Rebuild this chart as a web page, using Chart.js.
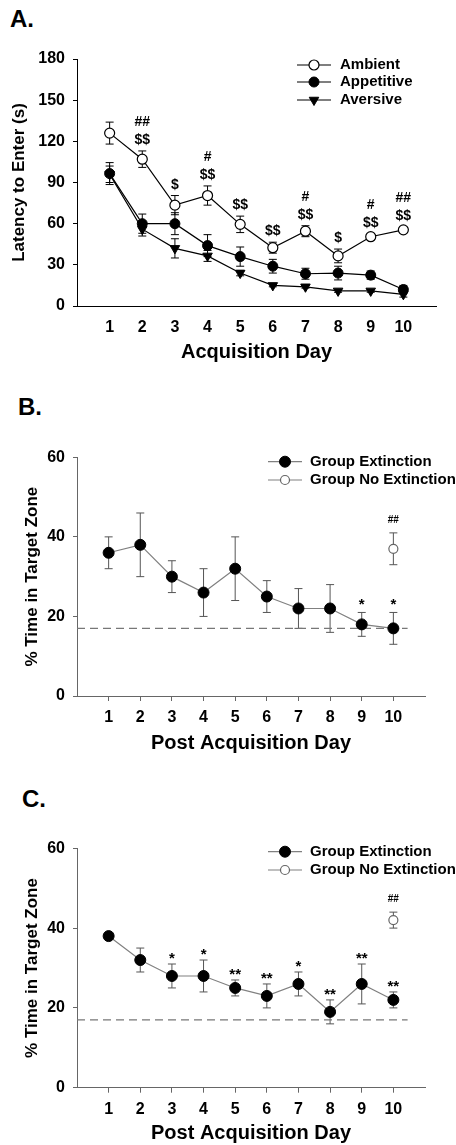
<!DOCTYPE html>
<html>
<head>
<meta charset="utf-8">
<script src="https://cdn.jsdelivr.net/npm/chart.js@4.4.1/dist/chart.umd.min.js"></script>
<style>
  body { margin: 0; background: #fff; width: 456px; height: 1145px; position: relative; overflow: hidden; font-family: "Liberation Sans", Arial, sans-serif; }
  canvas { position: absolute; left: 0; }
  .panel { position: absolute; font-size: 24px; line-height: 24px; font-weight: bold; }
</style>
</head>
<body>
<div class="panel" style="left:10px;top:7px">A.</div>
<canvas id="chartA" width="456" height="340" style="top:40px"></canvas>
<div class="panel" style="left:18px;top:395px">B.</div>
<canvas id="chartB" width="456" height="330" style="top:430px"></canvas>
<div class="panel" style="left:22px;top:787px">C.</div>
<canvas id="chartC" width="456" height="325" style="top:820px"></canvas>

<script>
// ---- data ----
const days = [1, 2, 3, 4, 5, 6, 7, 8, 9, 10];

// Panel A: latency to enter (s)
const ambientLatency    = [126, 107, 73.5, 80.5, 59.5, 42.5, 54.5, 36.5, 50.5, 55.5];
const ambientSem        = [8, 6, 7, 7, 6, 4, 4, 5, 2, 2];
const ambientSig        = ["", "##|$$", "$", "#|$$", "$$", "$$", "#|$$", "$", "#|$$", "##|$$"];
const appetitiveLatency = [96.5, 60, 60, 44, 36, 29, 23.5, 24, 22.5, 12];
const appetitiveSem     = [8, 7, 8, 8, 7, 5, 4, 5, 3, 3];
const aversiveLatency   = [96, 56, 42, 36.5, 24, 15, 14, 11, 11, 8.5];
const aversiveSem       = [6, 5, 7, 4, 2, 1, 1, 1, 1, 2];

// Panel B: % time in target zone
const extinctionB   = [36, 38, 30, 26, 32, 25, 22, 22, 18, 17];
const extinctionBSem = [4, 8, 4, 6, 8, 4, 5, 6, 3, 4];
const extinctionBSig = ["", "", "", "", "", "", "", "", "*", "*"];
const noExtinctionB = [37];
const noExtinctionBSem = [4];

// Panel C: % time in target zone
const extinctionC   = [38, 32, 28, 28, 25, 23, 26, 19, 26, 22];
const extinctionCSem = [0.5, 3, 3, 4, 2, 3, 3, 3, 5, 2];
const extinctionCSig = ["", "", "*", "*", "**", "**", "*", "**", "**", "**"];
const noExtinctionC = [42];
const noExtinctionCSem = [2];

const noExtDay = [10];
const chanceLevel = 17;
const chanceSpan = [0, 10.45];

const latencyTicks = [0, 30, 60, 90, 120, 150, 180];
const percentTicks = [0, 20, 40, 60];

const FONT = '"Liberation Sans", Arial, sans-serif';
Chart.defaults.font.family = FONT;
Chart.defaults.font.weight = 'bold';
Chart.defaults.color = '#000';

const toPoints = (xs, ys) => xs.map((x, i) => ({ x, y: ys[i] }));

// vertical error bars with caps, drawn under the markers
const errorBarPlugin = {
  id: 'errorBars',
  beforeDatasetsDraw(chart, args, opts) {
    const ctx = chart.ctx;
    const yScale = chart.scales.y;
    chart.data.datasets.forEach((ds, i) => {
      if (!ds.errors) return;
      const meta = chart.getDatasetMeta(i);
      ctx.save();
      ctx.strokeStyle = opts.color;
      ctx.lineWidth = 1;
      meta.data.forEach((pt, j) => {
        const e = ds.errors[j];
        if (!e) return;
        const v = ds.data[j].y;
        const top = yScale.getPixelForValue(v + e);
        const bot = yScale.getPixelForValue(v - e);
        ctx.beginPath();
        ctx.moveTo(pt.x, top); ctx.lineTo(pt.x, bot);
        ctx.moveTo(pt.x - opts.cap, top); ctx.lineTo(pt.x + opts.cap, top);
        ctx.moveTo(pt.x - opts.cap, bot); ctx.lineTo(pt.x + opts.cap, bot);
        ctx.stroke();
      });
      ctx.restore();
    });
  }
};

// significance marks stacked above error bars
const sigPlugin = {
  id: 'sig',
  afterDatasetsDraw(chart, args, opts) {
    const ctx = chart.ctx;
    const yScale = chart.scales.y;
    chart.data.datasets.forEach((ds, i) => {
      if (!ds.sig) return;
      const meta = chart.getDatasetMeta(i);
      ctx.save();
      ctx.fillStyle = '#000';
      ctx.textAlign = 'center';
      ctx.textBaseline = 'alphabetic';
      ctx.font = `bold ${ds.sigSize || opts.size}px ${FONT}`;
      meta.data.forEach((pt, j) => {
        const s = ds.sig[j];
        if (!s) return;
        const top = yScale.getPixelForValue(ds.data[j].y + (ds.errors ? ds.errors[j] : 0));
        s.split('|').reverse().forEach((t, k) => {
          ctx.fillText(t, pt.x, top - (ds.sigGap ?? opts.gap) - k * opts.lineGap);
        });
      });
      ctx.restore();
    });
  }
};

// legend with line + marker sample
const lineLegendPlugin = {
  id: 'lineLegend',
  afterDraw(chart, args, opts) {
    const ctx = chart.ctx;
    ctx.save();
    ctx.font = `bold ${opts.size}px ${FONT}`;
    ctx.textBaseline = 'middle';
    ctx.textAlign = 'left';
    opts.items.forEach((idx, r) => {
      const ds = chart.data.datasets[idx];
      const y = opts.rows[r];
      ctx.strokeStyle = ds.borderColor;
      ctx.lineWidth = ds.borderWidth;
      ctx.beginPath();
      ctx.moveTo(opts.x1, y); ctx.lineTo(opts.x2, y);
      ctx.stroke();
      ctx.fillStyle = ds.pointBackgroundColor;
      ctx.strokeStyle = ds.pointBorderColor;
      ctx.lineWidth = ds.pointBorderWidth;
      Chart.helpers.drawPoint(ctx, {
        pointStyle: ds.pointStyle || 'circle',
        rotation: ds.pointRotation || 0,
        radius: ds.pointRadius,
        borderWidth: ds.pointBorderWidth
      }, (opts.x1 + opts.x2) / 2, y);
      ctx.fillStyle = '#000';
      ctx.fillText(ds.label, opts.textX, y);
    });
    ctx.restore();
  }
};

const xScale = (title, height, titlePad, tickColor, borderColor) => ({
  type: 'linear',
  min: 0, max: 11,
  afterBuildTicks: (s) => { s.ticks = days.map(v => ({ value: v })); },
  afterFit: (s) => { s.height = height; },
  grid: { drawOnChartArea: false, drawTicks: true, tickLength: 5, tickColor },
  border: { color: borderColor, width: 1 },
  ticks: { font: { size: 16, weight: 'bold' }, padding: 7, maxRotation: 0, color: '#000' },
  title: { display: true, text: title, font: { size: 20, weight: 'bold' }, color: '#000', padding: { top: 0, bottom: titlePad } }
});

const yScale = (title, max, step, titlePad, borderColor) => ({
  type: 'linear',
  min: 0, max,
  afterFit: (s) => { s.width = 77; },
  grid: { drawOnChartArea: false, drawTicks: true, tickLength: 4, tickColor: borderColor },
  border: { color: borderColor, width: 1 },
  ticks: { stepSize: step, font: { size: 16, weight: 'bold' }, padding: 8, color: '#000' },
  title: { display: true, text: title, font: { size: 17, weight: 'bold' }, color: '#000', padding: { top: titlePad, bottom: 0 } }
});

// ---- Panel A ----
new Chart(document.getElementById('chartA'), {
  type: 'line',
  data: {
    datasets: [
      {
        label: 'Ambient', data: toPoints(days, ambientLatency), errors: ambientSem, sig: ambientSig,
        borderColor: '#000', borderWidth: 1.2, pointStyle: 'circle', pointRadius: 5,
        pointBackgroundColor: '#fff', pointBorderColor: '#000', pointBorderWidth: 1.2, tension: 0
      },
      {
        label: 'Appetitive', data: toPoints(days, appetitiveLatency), errors: appetitiveSem,
        borderColor: '#000', borderWidth: 1.2, pointStyle: 'circle', pointRadius: 5,
        pointBackgroundColor: '#000', pointBorderColor: '#000', pointBorderWidth: 1, tension: 0
      },
      {
        label: 'Aversive', data: toPoints(days, aversiveLatency), errors: aversiveSem,
        borderColor: '#000', borderWidth: 1.2, pointStyle: 'triangle', pointRotation: 180, pointRadius: 5.5,
        pointBackgroundColor: '#000', pointBorderColor: '#000', pointBorderWidth: 1, tension: 0
      }
    ]
  },
  options: {
    responsive: false,
    animation: false,
    layout: { padding: { top: 19, right: 20, left: 0, bottom: 0 } },
    scales: {
      x: xScale('Acquisition Day', 74, 16, 'transparent', '#000'),
      y: Object.assign(yScale('Latency to Enter (s)', 180, 30, 9, '#000'), {})
    },
    plugins: {
      legend: { display: false },
      tooltip: { enabled: false },
      errorBars: { color: '#000', cap: 4 },
      sig: { size: 14, gap: 7, lineGap: 18 },
      lineLegend: { items: [0, 1, 2], rows: [25, 42, 60], x1: 297, x2: 331, textX: 340, size: 15 }
    }
  },
  plugins: [errorBarPlugin, sigPlugin, lineLegendPlugin]
});

// ---- Panels B and C share a layout ----
const renderExtinctionChart = (id, ext, extSem, extSig, noExt, noExtSem, top, xHeight, titlePad, starGap) => {
  new Chart(document.getElementById(id), {
    type: 'line',
    data: {
      datasets: [
        {
          label: 'Group Extinction', data: toPoints(days, ext), errors: extSem, sig: extSig, sigGap: starGap, sigSize: 15,
          borderColor: '#808080', borderWidth: 1.2, pointStyle: 'circle', pointRadius: 5.5,
          pointBackgroundColor: '#000', pointBorderColor: '#000', pointBorderWidth: 1, tension: 0
        },
        {
          label: 'Group No Extinction', data: toPoints(noExtDay, noExt), errors: noExtSem, sig: ['##'], sigGap: 10, sigSize: 10,
          borderColor: '#808080', borderWidth: 1.2, pointStyle: 'circle', pointRadius: 4.5,
          pointBackgroundColor: '#fff', pointBorderColor: '#666', pointBorderWidth: 1.2, tension: 0
        },
        {
          label: 'chance', data: toPoints(chanceSpan, [chanceLevel, chanceLevel]),
          borderColor: '#777', borderWidth: 1.2, borderDash: [8, 5], pointRadius: 0, tension: 0
        }
      ]
    },
    options: {
      responsive: false,
      animation: false,
      layout: { padding: { top, right: 31, left: 0, bottom: 0 } },
      scales: {
        x: xScale('Post Acquisition Day', xHeight, titlePad, '#666', '#666'),
        y: yScale('% Time in Target Zone', 60, 20, 22, '#666')
      },
      plugins: {
        legend: { display: false },
        tooltip: { enabled: false },
        errorBars: { color: '#555', cap: 4 },
        sig: { size: 15, gap: 2, lineGap: 16 },
        lineLegend: { items: [0, 1], rows: [31.7, 50], x1: 268, x2: 302, textX: 310, size: 15 }
      }
    },
    plugins: [errorBarPlugin, sigPlugin, lineLegendPlugin]
  });
};

renderExtinctionChart('chartB', extinctionB, extinctionBSem, extinctionBSig, noExtinctionB, noExtinctionBSem, 27.3, 64, 5, 3);
renderExtinctionChart('chartC', extinctionC, extinctionCSem, extinctionCSig, noExtinctionC, noExtinctionCSem, 28.3, 57.3, 0, 1);
</script>
</body>
</html>
